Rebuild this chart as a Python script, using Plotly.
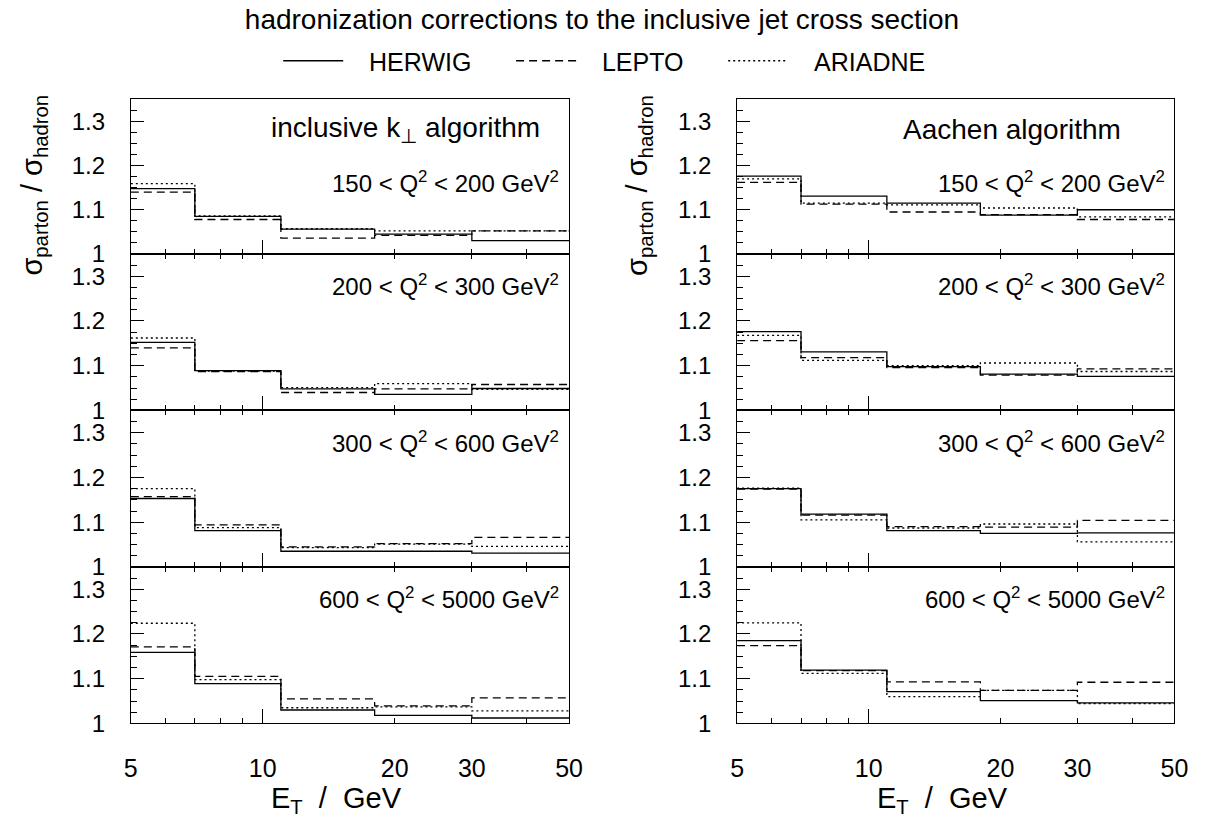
import plotly.graph_objects as go

# ---------------- data ----------------
edges = [5, 7, 11, 18, 30, 50]
q2_labels = ["150 < Q<sup>2</sup> < 200 GeV<sup>2</sup>",
             "200 < Q<sup>2</sup> < 300 GeV<sup>2</sup>",
             "300 < Q<sup>2</sup> < 600 GeV<sup>2</sup>",
             "600 < Q<sup>2</sup> < 5000 GeV<sup>2</sup>"]
algorithms = ["inclusive k<sub>\u22a5</sub> algorithm", "Aachen algorithm"]
generators = ["HERWIG", "LEPTO", "ARIADNE"]
x_tick_vals = [5, 10, 20, 30, 50]
x_tick_text = ["5", "10", "20", "30", "50"]
y_tick_vals = [1.0, 1.1, 1.2, 1.3]
y_tick_text = ["1", "1.1", "1.2", "1.3"]

kt_herwig = [[1.148, 1.085, 1.056, 1.045, 1.030],
             [1.152, 1.089, 1.048, 1.036, 1.049],
             [1.153, 1.081, 1.035, 1.035, 1.031],
             [1.159, 1.089, 1.030, 1.018, 1.012]]
kt_lepto = [[1.140, 1.078, 1.036, 1.042, 1.052],
            [1.140, 1.087, 1.040, 1.048, 1.058],
            [1.157, 1.094, 1.045, 1.052, 1.066],
            [1.171, 1.105, 1.055, 1.039, 1.057]]
kt_ariadne = [[1.159, 1.086, 1.057, 1.052, 1.052],
              [1.162, 1.088, 1.051, 1.060, 1.047],
              [1.175, 1.088, 1.043, 1.051, 1.046],
              [1.224, 1.098, 1.035, 1.037, 1.028]]
aachen_herwig = [[1.176, 1.131, 1.115, 1.088, 1.100],
                 [1.176, 1.131, 1.098, 1.081, 1.076],
                 [1.175, 1.118, 1.081, 1.075, 1.076],
                 [1.185, 1.119, 1.071, 1.051, 1.046]]
aachen_lepto = [[1.162, 1.113, 1.095, 1.089, 1.078],
                [1.156, 1.118, 1.096, 1.079, 1.093],
                [1.174, 1.116, 1.090, 1.089, 1.104],
                [1.174, 1.118, 1.093, 1.074, 1.092]]
aachen_ariadne = [[1.170, 1.115, 1.111, 1.104, 1.084],
                  [1.168, 1.112, 1.100, 1.106, 1.087],
                  [1.176, 1.105, 1.087, 1.096, 1.056],
                  [1.225, 1.112, 1.060, 1.074, 1.044]]

# ---------------- layout constants ----------------
W, H = 1211, 823
FONT = "Liberation Sans, Arial, sans-serif"
col_px = [(126, 572), (743, 1188)]
row_px = [(101, 258), (258, 417), (417, 576), (576, 735)]
dashes = ["solid", "8px,5px", "2px,3px"]
columns = [[kt_herwig, kt_lepto, kt_ariadne],
           [aachen_herwig, aachen_lepto, aachen_ariadne]]
NB = "\u00a0"
legend_names = [NB * 3 + generators[0] + NB * 5,
                NB * 3 + generators[1] + NB * 5,
                NB * 3 + generators[2]]

fig = go.Figure()
layout = dict(width=W, height=H, margin=dict(l=0, r=0, t=0, b=0),
              paper_bgcolor="white", plot_bgcolor="white",
              font=dict(family=FONT, color="black", size=20),
              showlegend=True)

annotations = []
extra = 8
for c in range(2):
    x0p, x1p = col_px[c]
    xdom = [x0p / W, x1p / W]
    for r in range(4):
        idx = c * 4 + r + 1
        sfx = "" if idx == 1 else str(idx)
        y0p, y1p = row_px[r]
        ydom = [1 - y1p / H, 1 - y0p / H]
        for g in range(3):
            vals = columns[c][g][r]
            fig.add_trace(go.Scatter(
                x=edges, y=vals + [vals[-1]], mode="lines",
                line=dict(color="black", width=1.3, dash=dashes[g], shape="hv"),
                name=legend_names[g], showlegend=(idx == 1),
                xaxis="x" + sfx, yaxis="y" + sfx, hoverinfo="skip"))
        layout["xaxis" + sfx] = dict(
            domain=xdom, anchor="y" + sfx, type="log",
            range=[0.69897, 1.69897], showgrid=False, zeroline=False,
            showline=True, linecolor="black", linewidth=1, mirror=True,
            tickmode="array", tickvals=[10], ticks="inside", ticklen=14,
            tickcolor="black", tickwidth=1, showticklabels=False,
            minor=dict(tickmode="array", tickvals=[6, 7, 8, 9, 20, 30, 40],
                       ticks="inside", ticklen=5, tickcolor="black",
                       tickwidth=1, showgrid=False))
        layout["yaxis" + sfx] = dict(
            domain=ydom, anchor="x" + sfx, range=[1.0, 1.35],
            showgrid=False, zeroline=False, showline=True, linecolor="black",
            linewidth=1, mirror=True, tickmode="array",
            tickvals=y_tick_vals, ticktext=y_tick_text, ticks="inside",
            ticklen=13, tickcolor="black", tickwidth=1,
            ticklabelstandoff=20, tickfont=dict(size=24),
            minor=dict(tickmode="linear", tick0=1.0, dtick=0.025,
                       ticks="inside", ticklen=6, tickcolor="black",
                       tickwidth=1, showgrid=False))
        # short ticks along the top edge for lower panels
        if r > 0:
            extra += 1
            layout["xaxis" + str(extra)] = dict(
                overlaying="x" + sfx, anchor="y" + sfx, side="top",
                type="log", range=[0.69897, 1.69897], showgrid=False,
                zeroline=False, showline=False, tickmode="array",
                tickvals=[6, 7, 8, 9, 10, 20, 30, 40], ticks="inside",
                ticklen=5, tickcolor="black", tickwidth=1,
                showticklabels=False)
            fig.add_trace(go.Scatter(x=[None], y=[None], mode="lines",
                                     showlegend=False, hoverinfo="skip",
                                     xaxis="x" + str(extra), yaxis="y" + sfx))
        # tick labels on the bottom panels
        if r == 3:
            extra += 1
            layout["xaxis" + str(extra)] = dict(
                overlaying="x" + sfx, anchor="y" + sfx, side="bottom",
                type="log", range=[0.69897, 1.69897], showgrid=False,
                zeroline=False, showline=False, tickmode="array",
                tickvals=x_tick_vals, ticktext=x_tick_text, ticks="",
                ticklabelstandoff=28, tickfont=dict(size=25))
            fig.add_trace(go.Scatter(x=[None], y=[None], mode="lines",
                                     showlegend=False, hoverinfo="skip",
                                     xaxis="x" + str(extra), yaxis="y" + sfx))
        # Q2 label
        annotations.append(dict(
            text=q2_labels[r], xref="paper", yref="paper",
            x=(x1p - 8) / W, y=1 - (y0p + (84 if r == 0 else 32)) / H,
            xanchor="right", yanchor="middle", showarrow=False,
            font=dict(size=24)))
    # algorithm label
    annotations.append(dict(
        text=algorithms[c], xref="paper", yref="paper",
        x=([406, 1023][c]) / W, y=1 - 132 / H, xanchor="center",
        yanchor="middle", showarrow=False, font=dict(size=28)))
    # y title
    annotations.append(dict(
        text="\u03c3<sub>parton</sub> / \u03c3<sub>hadron</sub>",
        xref="paper", yref="paper", x=([27, 643][c]) / W, y=1 - 188 / H,
        xanchor="center", yanchor="middle", textangle=-90, showarrow=False,
        font=dict(size=29)))
    # x title
    annotations.append(dict(
        text="E<sub>T</sub>  /  GeV", xref="paper", yref="paper",
        x=([335, 952][c]) / W, y=1 - 793 / H, xanchor="center",
        yanchor="top", showarrow=False, font=dict(size=29)))

layout["annotations"] = annotations
layout["title"] = dict(
    text="hadronization corrections to the inclusive jet cross section",
    x=0.5, xanchor="center", xref="paper", y=1 - 19 / H, yref="container",
    yanchor="middle", font=dict(size=28))
layout["legend"] = dict(
    orientation="h", x=276 / W, xanchor="left", y=1 - 62 / H,
    yanchor="middle", font=dict(size=25), bgcolor="rgba(0,0,0,0)",
    itemwidth=60)

fig.update_layout(**layout)
fig.write_html("out.html")
